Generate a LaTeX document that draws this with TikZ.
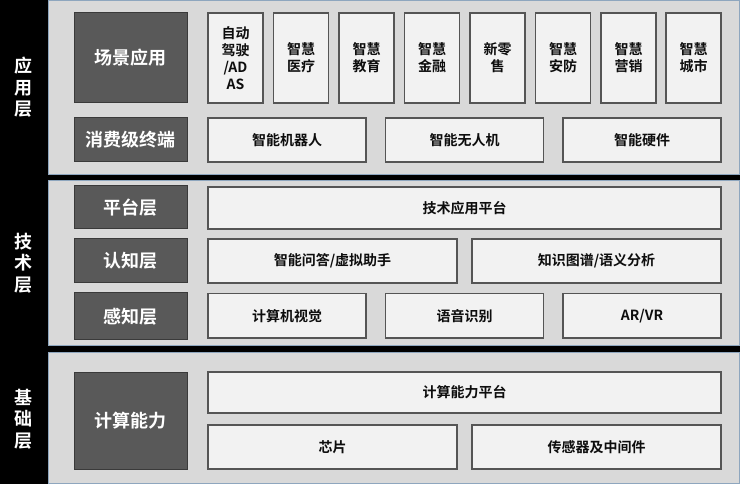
\documentclass[tikz,border=0pt]{standalone}
\usepackage{fontspec}
\setmainfont{Noto Sans CJK SC}[BoldFont={* Bold}]
\definecolor{bgblack}{HTML}{000000}
\definecolor{panelgray}{HTML}{D9D9D9}
\definecolor{panelblue}{HTML}{8EA6BE}
\definecolor{darkfill}{HTML}{595959}
\definecolor{darkedge}{HTML}{3A3A3A}
\definecolor{lightfill}{HTML}{F2F2F2}
\definecolor{lightedge}{HTML}{555555}
\tikzset{
  panel/.style={fill=panelgray, draw=panelblue, line width=1pt},
  sidelabel/.style={text=white, align=center, font=\bfseries\fontsize{18}{21.5}\selectfont, inner sep=0pt},
  darkbox/.style={fill=darkfill, draw=darkedge, line width=1pt, text=white, align=center,
    font=\bfseries\fontsize{18}{21}\selectfont, inner sep=0pt},
  lightbox/.style={fill=lightfill, draw=lightedge, line width=1.3pt, text=black!95, align=center,
    font=\bfseries\fontsize{14}{17}\selectfont, inner sep=0pt},
}
\newcommand{\boxat}[7]{% style, name, x1, y1, x2, y2, text
  \node[#1, minimum width={(#5)-(#3)}, minimum height={(#6)-(#4)}] (#2) at ({((#3)+(#5))/2},{((#4)+(#6))/2}) {#7};}
\begin{document}
\begin{tikzpicture}[x=1pt,y=-1pt]
\fill[bgblack] (0,0) rectangle (740,484);
\useasboundingbox (0,0) rectangle (740,484);
% panels
\boxat{panel}{p1}{48}{0.5}{739}{174.5}{}
\boxat{panel}{p2}{48}{180.5}{739}{345}{}
\boxat{panel}{p3}{48}{352.5}{739}{483.5}{}
% side labels
\node[sidelabel] (l1) at (24,87.5) {应\\用\\层};
\node[sidelabel] (l2) at (24,263) {技\\术\\层};
\node[sidelabel] (l3) at (24,419) {基\\础\\层};
% application layer
\boxat{darkbox}{cj}{74}{13}{187}{103}{场景应用}
\boxat{lightbox}{a1}{208}{13}{263}{103}{自动\\驾驶\\/AD\\AS}
\boxat{lightbox}{a2}{273.5}{13}{328.5}{103}{智慧\\医疗}
\boxat{lightbox}{a3}{339}{13}{394}{103}{智慧\\教育}
\boxat{lightbox}{a4}{404.5}{13}{459.5}{103}{智慧\\金融}
\boxat{lightbox}{a5}{470}{13}{525}{103}{新零\\售}
\boxat{lightbox}{a6}{535.5}{13}{590.5}{103}{智慧\\安防}
\boxat{lightbox}{a7}{601}{13}{656}{103}{智慧\\营销}
\boxat{lightbox}{a8}{666}{13}{721}{103}{智慧\\城市}
\boxat{darkbox}{xf}{74}{118}{187}{162}{消费级终端}
\boxat{lightbox}{b1}{208}{118}{366}{162}{智能机器人}
\boxat{lightbox}{b2}{385.5}{118}{543.5}{162}{智能无人机}
\boxat{lightbox}{b3}{563}{118}{721}{162}{智能硬件}
% technology layer
\boxat{darkbox}{pt}{74}{185.5}{187}{229}{平台层}
\boxat{lightbox}{c1}{208}{187}{721}{229}{技术应用平台}
\boxat{darkbox}{rz}{74}{239}{187}{283}{认知层}
\boxat{lightbox}{d1}{208}{239}{457}{283}{智能问答/虚拟助手}
\boxat{lightbox}{d2}{472}{239}{721}{283}{知识图谱/语义分析}
\boxat{darkbox}{gz}{74}{293}{187}{339.5}{感知层}
\boxat{lightbox}{e1}{208}{293.5}{366}{338}{计算机视觉}
\boxat{lightbox}{e2}{385.5}{293.5}{543.5}{338}{语音识别}
\boxat{lightbox}{e3}{563}{293.5}{721}{338}{AR/VR}
% foundation layer
\boxat{darkbox}{js}{74}{372}{187}{469}{计算能力}
\boxat{lightbox}{f1}{208}{372}{721}{413}{计算能力平台}
\boxat{lightbox}{g1}{208}{425}{457}{469}{芯片}
\boxat{lightbox}{g2}{472}{425}{721}{469}{传感器及中间件}
\end{tikzpicture}
\end{document}
